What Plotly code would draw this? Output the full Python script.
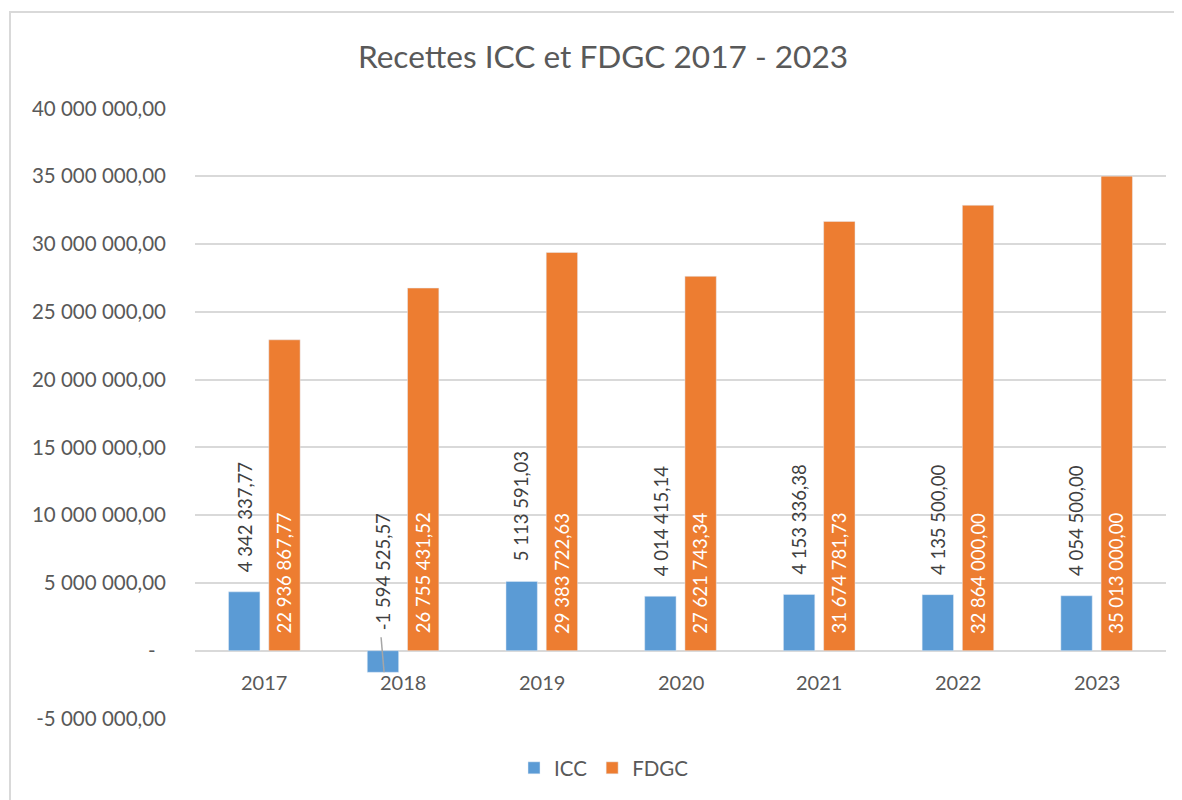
import plotly.graph_objects as go

years = ["2017", "2018", "2019", "2020", "2021", "2022", "2023"]
icc = [4342337.77, -1594525.57, 5113591.03, 4014415.14, 4153336.38, 4135500.00, 4054500.00]
fdgc = [22936867.77, 26755431.52, 29383722.63, 27621743.34, 31674781.73, 32864000.00, 35013000.00]
tick_vals = [-5000000, 0, 5000000, 10000000, 15000000, 20000000, 25000000, 30000000, 35000000, 40000000]
title_text = "Recettes ICC et FDGC 2017 - 2023"

Y_MIN, Y_MAX = -5000000, 40000000
PAD = 40000
BLUE = "#5B9BD5"
ORANGE = "#ED7D31"
GRID = "#D9D9D9"
TXT = "#595959"
FONT = "Lato"
LBL = 18.5


def fr(v):
    s = f"{v:,.2f}"
    return s.replace(",", " ").replace(".", ",")


tick_text = ["-\u00a0\u00a0" if v == 0 else fr(v) for v in tick_vals]

fig = go.Figure()
fig.add_trace(go.Bar(name="ICC", x=years, y=icc, marker=dict(color=BLUE), hoverinfo="skip"))
fig.add_trace(go.Bar(name="FDGC", x=years, y=fdgc, marker=dict(color=ORANGE), hoverinfo="skip"))

annotations = []
shapes = []
OFF = 20
for i, v in enumerate(icc):
    annotations.append(dict(
        x=i, y=max(v, 0), xref="x", yref="y", text=fr(v), showarrow=False,
        textangle=-90, xanchor="center", yanchor="bottom", xshift=-OFF, yshift=18,
        font=dict(family=FONT, size=LBL, color="#404040")))
    if v < 0:
        shapes.append(dict(
            type="line", xref="x", yref="y", xsizemode="pixel", ysizemode="pixel",
            xanchor=i, yanchor=v, x0=-OFF + 1, x1=-OFF - 2, y0=0, y1=35,
            line=dict(color="#A6A6A6", width=1.5), layer="above"))
for i, v in enumerate(fdgc):
    annotations.append(dict(
        x=i, y=0, xref="x", yref="y", text=fr(v), showarrow=False,
        textangle=-90, xanchor="center", yanchor="bottom", xshift=OFF, yshift=15,
        font=dict(family=FONT, size=LBL, color="#FFFFFF")))
for i, yr in enumerate(years):
    annotations.append(dict(
        x=i, y=0, xref="x", yref="y", text=yr, showarrow=False,
        xanchor="center", yanchor="middle", yshift=-31,
        font=dict(family=FONT, size=20, color=TXT)))

L, T, R_EDGE, B_EDGE = 187, 100, 1158, 711
PW, PH = R_EDGE - L, B_EDGE - T

shapes.append(dict(type="rect", xref="paper", yref="paper", x0=(2 - L) / PW, x1=1.1,
                   y0=-0.3, y1=(B_EDGE - 4) / PH, line=dict(color=GRID, width=2), layer="below"))

fig.update_layout(
    width=1182, height=800,
    margin=dict(l=L, r=1182 - R_EDGE, t=T, b=800 - B_EDGE),
    paper_bgcolor="white", plot_bgcolor="white",
    font=dict(family=FONT, color=TXT, size=20),
    title=dict(text=title_text, x=595 / 1182, xanchor="center", y=1 - 49 / 800, yanchor="middle",
               font=dict(family=FONT, size=31.6, color=TXT)),
    barmode="group", bargap=0.42, bargroupgap=0.22,
    showlegend=True,
    legend=dict(orientation="h", x=(596 - L) / PW, xanchor="center", y=(B_EDGE - 760) / PH,
                yanchor="middle", font=dict(family=FONT, size=20.5, color=TXT), itemwidth=30),
    xaxis=dict(type="category", categoryarray=years, range=[-0.5, len(years) - 0.5],
               autorange=False, showline=False, showgrid=False, ticks="",
               showticklabels=False, zeroline=False),
    yaxis=dict(range=[Y_MIN - PAD, Y_MAX + PAD], autorange=False, tickvals=tick_vals,
               ticktext=tick_text, showgrid=True, gridcolor=GRID, gridwidth=2, zeroline=True,
               zerolinecolor=GRID, zerolinewidth=2, showline=False, ticks="",
               ticklabelstandoff=28, tickfont=dict(family=FONT, size=20.5, color=TXT)),
    annotations=annotations,
    shapes=shapes,
)

fig.write_html("out.html")
